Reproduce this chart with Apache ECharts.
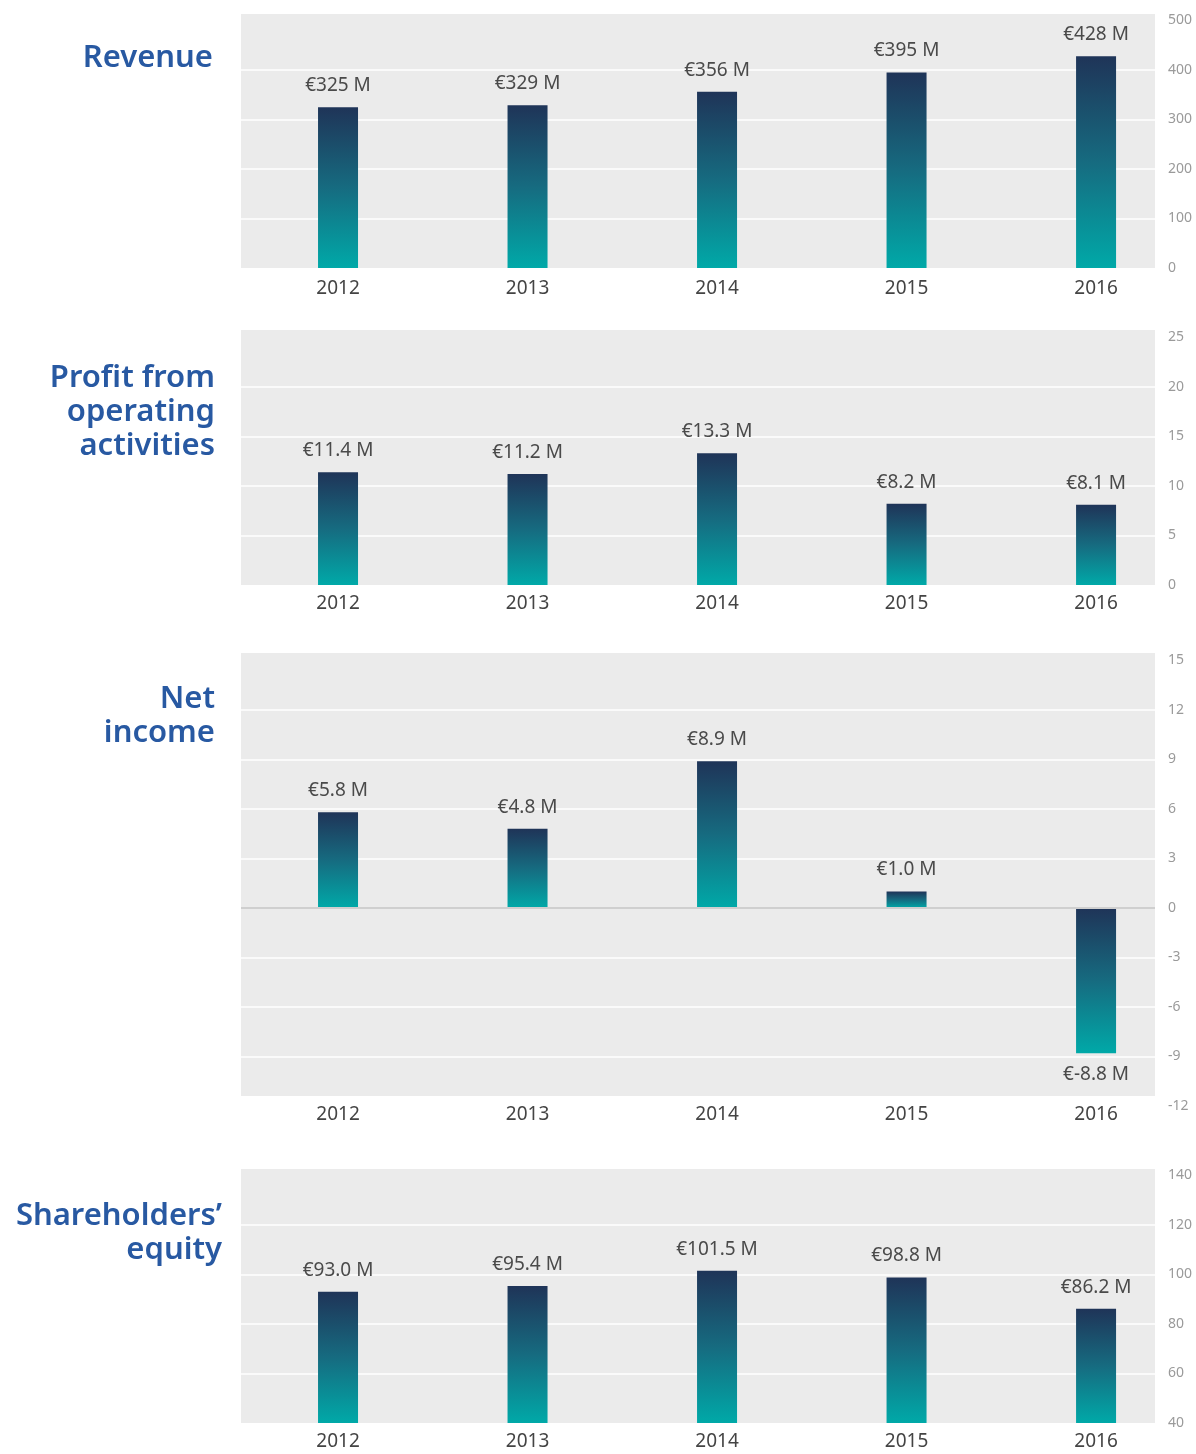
<!DOCTYPE html>
<html>
<head>
<meta charset="utf-8">
<title>Key figures 2012-2016</title>
<script src="https://cdn.jsdelivr.net/npm/echarts@6/dist/echarts.min.js"></script>
<style>
  html, body { margin: 0; padding: 0; background: #fff; }
  #chart { width: 1196px; height: 1454px; }
</style>
</head>
<body>
<div id="chart"></div>
<script>
var years = [2012, 2013, 2014, 2015, 2016];

var revenue = [325, 329, 356, 395, 428];
var profit = [11.4, 11.2, 13.3, 8.2, 8.1];
var netIncome = [5.8, 4.8, 8.9, 1.0, -8.8];
var equity = [93.0, 95.4, 101.5, 98.8, 86.2];

var revenueTicks = { min: 0, max: 500, interval: 100 };
var profitTicks = { min: 0, max: 25, interval: 5 };
var netIncomeTicks = { min: -12, max: 15, interval: 3 };
var equityTicks = { min: 40, max: 140, interval: 20 };

var titles = ['Revenue', 'Profit from\noperating\nactivities', 'Net\nincome', 'Shareholders\u2019\nequity'];

var dom = document.getElementById('chart');
var myChart = echarts.init(dom);

var fontFamily = '"Noto Sans", "Open Sans", sans-serif';
var barColor = new echarts.graphic.LinearGradient(0, 0, 0, 1, [
    { offset: 0, color: '#1f3458' },
    { offset: 0.5, color: '#166b80' },
    { offset: 1, color: '#00a9a8' }
]);

// one entry per panel: plot box (grid), grey background behind it, title anchor (right edge, top)
var panels = [
    { values: revenue, ticks: revenueTicks, digits: 0, top: 20.5, height: 247.5, bg: [14, 268], labelMargin: 11, title: [213, 41] },
    { values: profit, ticks: profitTicks, digits: 1, top: 337.5, height: 247.5, bg: [330, 585], labelMargin: 9, title: [215, 361] },
    { values: netIncome, ticks: netIncomeTicks, digits: 1, top: 660.5, height: 445.5, bg: [653, 1096], labelMargin: -1, title: [215, 682] },
    { values: equity, ticks: equityTicks, digits: 1, top: 1175.5, height: 247.5, bg: [1169, 1423], labelMargin: 9, title: [222, 1199] }
];

var option = {
    animation: false,
    backgroundColor: '#ffffff',
    graphic: { elements: [] },
    grid: [],
    xAxis: [],
    yAxis: [],
    series: []
};

panels.forEach(function (p, i) {
    option.graphic.elements.push({
        type: 'text',
        silent: true,
        x: p.title[0],
        y: p.title[1],
        style: {
            text: titles[i],
            align: 'right',
            verticalAlign: 'top',
            fill: '#2859a2',
            fontFamily: fontFamily,
            fontWeight: 600,
            fontSize: 31,
            lineHeight: 34
        }
    });

    option.graphic.elements.push({
        type: 'rect',
        z: -10,
        silent: true,
        shape: { x: 241, y: p.bg[0], width: 914, height: p.bg[1] - p.bg[0] },
        style: { fill: '#ebebeb' }
    });

    option.grid.push({ left: 241, width: 914, top: p.top, height: p.height });

    option.xAxis.push({
        type: 'value',
        gridIndex: i,
        min: 2011.488,
        max: 2016.311,
        axisLine: { show: false, onZero: false },
        axisTick: { show: false },
        splitLine: { show: false },
        axisLabel: {
            customValues: years,
            margin: p.labelMargin,
            color: '#444444',
            fontFamily: fontFamily,
            fontSize: 19,
            formatter: function (v) { return String(v); }
        }
    });

    option.yAxis.push({
        type: 'value',
        gridIndex: i,
        position: 'right',
        min: p.ticks.min,
        max: p.ticks.max,
        interval: p.ticks.interval,
        axisLine: { show: false },
        axisTick: { show: false },
        splitLine: {
            show: true,
            showMinLine: false,
            showMaxLine: false,
            lineStyle: { color: '#ffffff', width: 1.5 }
        },
        axisLabel: {
            margin: 13,
            color: '#9a9a9a',
            fontFamily: fontFamily,
            fontSize: 14,
            padding: [0, 0, 6, 0]
        }
    });

    var series = {
        type: 'bar',
        xAxisIndex: i,
        yAxisIndex: i,
        barWidth: 40,
        itemStyle: { color: barColor },
        label: {
            show: true,
            distance: 12,
            color: '#4a4a4a',
            fontFamily: fontFamily,
            fontSize: 19,
            formatter: function (params) {
                return '\u20ac' + params.value[1].toFixed(p.digits) + ' M';
            }
        },
        data: p.values.map(function (v, k) {
            return { value: [years[k], v], label: { position: v < 0 ? 'bottom' : 'top' } };
        })
    };
    if (p.ticks.min < 0) {
        series.markLine = {
            silent: true,
            symbol: 'none',
            label: { show: false },
            lineStyle: { color: '#cfcfcf', width: 2, type: 'solid' },
            data: [{ yAxis: 0 }]
        };
    }
    option.series.push(series);
});

if (option && typeof option === "object") {
    myChart.setOption(option, true);
}
</script>
</body>
</html>
